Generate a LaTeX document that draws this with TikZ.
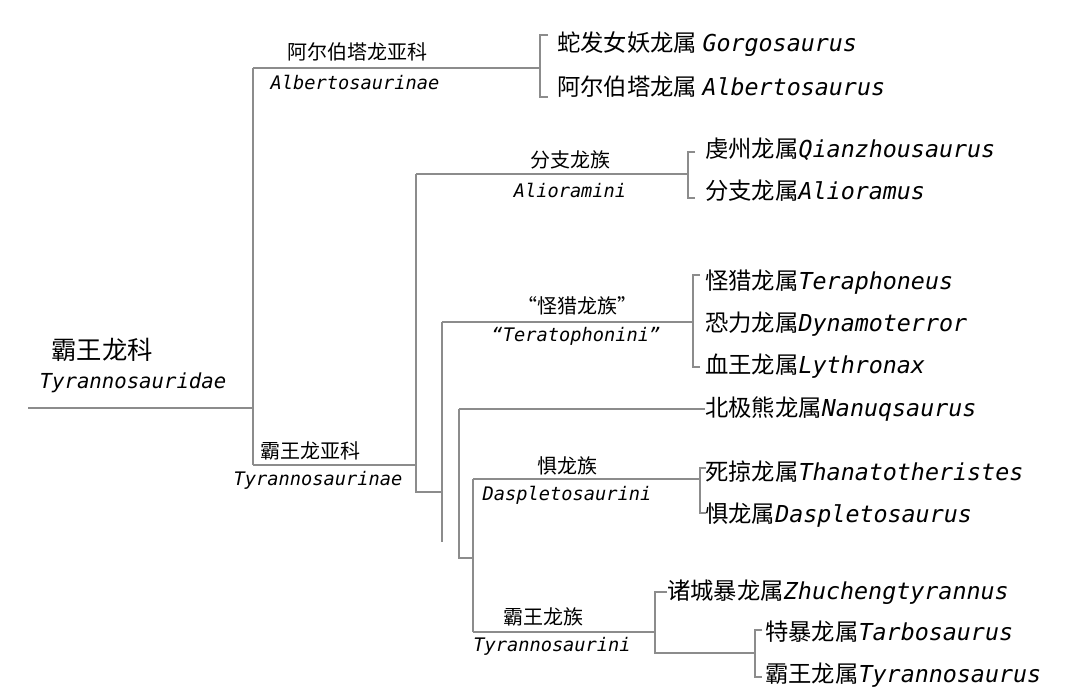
\documentclass[tikz,border=0pt]{standalone}
\usepackage{fontspec}
\setmainfont{Noto Sans CJK SC}
\newfontfamily\lat{DejaVu Sans Mono}
\begin{document}
\begin{tikzpicture}[x=0.75pt,y=-0.75pt,
  br/.style={draw=black!45,line width=0.8pt},
  gen/.style={anchor=west,inner sep=0pt,font=\fontsize{17.5}{19}\selectfont},
  cn/.style={inner sep=0pt,font=\fontsize{15}{16}\selectfont},
  ln/.style={inner sep=0pt,font=\fontsize{14}{15}\selectfont\lat\itshape}]
\useasboundingbox[fill=white] (0,0) rectangle (1080,696);
% labels
\node[inner sep=0pt,font=\fontsize{19}{20}\selectfont] (fam) at (102,350) {霸王龙科};
\node[inner sep=0pt,font=\fontsize{15.5}{16}\selectfont\lat\itshape] (faml) at (133,383) {Tyrannosauridae};
\node[cn] (alb) at (357,52) {阿尔伯塔龙亚科};
\node[ln] (albl) at (355,82) {Albertosaurinae};
\node[cn] (tyr) at (310,451) {霸王龙亚科};
\node[ln] (tyrl) at (318,480) {Tyrannosaurinae};
\node[cn] (ali) at (570,160) {分支龙族};
\node[ln] (alil) at (570,190) {Alioramini};
\node[cn] (ter) at (577,306) {“怪猎龙族”};
\node[ln] (terl) at (576,336) {“Teratophonini”};
\node[cn] (das) at (567,466) {惧龙族};
\node[ln] (dasl) at (567,495) {Daspletosaurini};
\node[cn] (tyt) at (543,617) {霸王龙族};
\node[ln] (tytl) at (552,646) {Tyrannosaurini};
\node[gen] (g1) at (557,44) {蛇发女妖龙属 {\lat\itshape Gorgosaurus}};
\node[gen] (g2) at (557,87) {阿尔伯塔龙属 {\lat\itshape Albertosaurus}};
\node[gen] (g3) at (705,149) {虔州龙属{\lat\itshape Qianzhousaurus}};
\node[gen] (g4) at (705,191) {分支龙属{\lat\itshape Alioramus}};
\node[gen] (g5) at (705,282) {怪猎龙属{\lat\itshape Teraphoneus}};
\node[gen] (g6) at (705,324) {恐力龙属{\lat\itshape Dynamoterror}};
\node[gen] (g7) at (705,366) {血王龙属{\lat\itshape Lythronax}};
\node[gen] (g8) at (705,409) {北极熊龙属{\lat\itshape Nanuqsaurus}};
\node[gen] (g9) at (705,472) {死掠龙属{\lat\itshape Thanatotheristes}};
\node[gen] (g10) at (705,515) {惧龙属{\lat\itshape Daspletosaurus}};
\node[gen] (g11) at (667,592) {诸城暴龙属{\lat\itshape Zhuchengtyrannus}};
\node[gen] (g12) at (765,632) {特暴龙属{\lat\itshape Tarbosaurus}};
\node[gen] (g13) at (765,675) {霸王龙属{\lat\itshape Tyrannosaurus}};
% tree
\draw[br] (28,408) -- (253,408);
\draw[br] (253,68) -- (253,465);
\draw[br] (253,68) -- (540,68);
\draw[br] (548,35) -- (540,35) -- (540,97) -- (548,97);
\draw[br] (253,465) -- (416,465);
\draw[br] (416,174) -- (416,492) -- (442,492);
\draw[br] (442,322) -- (442,542);
\draw[br] (416,174) -- (688,174);
\draw[br] (695,152) -- (688,152) -- (688,198) -- (695,198);
\draw[br] (442,322) -- (693,322);
\draw[br] (700,275) -- (693,275) -- (693,367) -- (700,367);
\draw[br] (459,409) -- (g8.west);
\draw[br] (459,409) -- (459,558) -- (473,558);
\draw[br] (473,479) -- (473,632);
\draw[br] (473,479) -- (700,479);
\draw[br] (706,468) -- (700,468) -- (700,513) -- (706,513);
\draw[br] (473,632) -- (655,632);
\draw[br] (g11.west) -- (655,592) -- (655,653) -- (755,653);
\draw[br] (762,630) -- (755,630) -- (755,677) -- (762,677);
\end{tikzpicture}
\end{document}
